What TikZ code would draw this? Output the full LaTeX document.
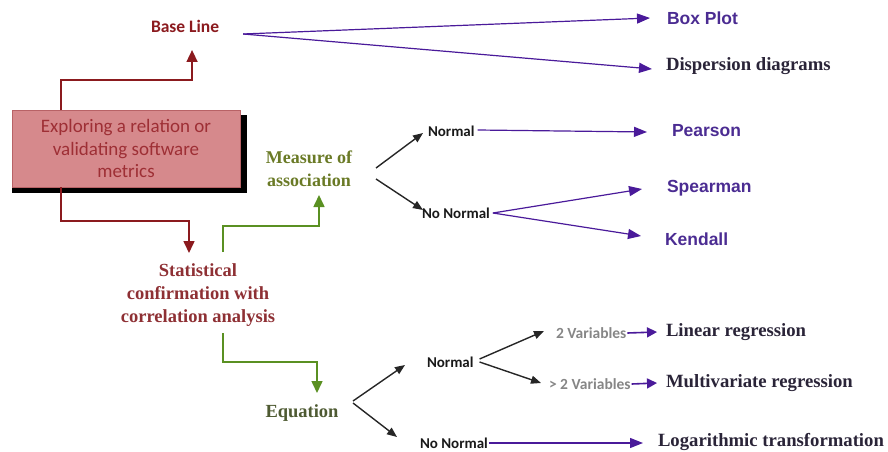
\documentclass[tikz,border=0pt]{standalone}
\usepackage{fontspec}
\setmainfont{Liberation Serif}
\newfontfamily\calfont{Carlito}
\newfontfamily\arialfont{Liberation Sans}
\usetikzlibrary{arrows.meta,calc,backgrounds}

\definecolor{darkred}{HTML}{8B1A1E}
\definecolor{boxtext}{HTML}{9E2F35}
\definecolor{boxfill}{HTML}{D6898C}
\definecolor{boxedge}{HTML}{B86266}
\definecolor{violetline}{HTML}{4A1A9A}
\definecolor{violettext}{HTML}{4B2C92}
\definecolor{inktext}{HTML}{2A2438}
\definecolor{leafgreen}{HTML}{5A9022}
\definecolor{olivetext}{HTML}{6A7A26}
\definecolor{olivedark}{HTML}{4E5A32}
\definecolor{stattext}{HTML}{8E3034}
\definecolor{greytext}{HTML}{868686}
\definecolor{inkarrow}{HTML}{262626}

\tikzset{
  every node/.style={inner sep=0pt, outer sep=0pt},
  redtitle/.style={text=darkred, font=\calfont\bfseries\fontsize{17.5}{21}\selectfont},
  leafsans/.style={anchor=west, text=violettext, font=\arialfont\bfseries\fontsize{17.5}{21}\selectfont},
  leafserif/.style={anchor=west, text=inktext, font=\bfseries\fontsize{18.7}{22}\selectfont},
  branch/.style={anchor=west, text=black!90, font=\calfont\bfseries\fontsize{15}{18}\selectfont},
  varlabel/.style={anchor=west, text=greytext, font=\calfont\bfseries\fontsize{15.5}{18}\selectfont},
  mainbox/.style={draw=boxedge, line width=0.6pt, fill=boxfill, minimum width=228pt, minimum height=77pt,
    align=center, text=boxtext, font=\calfont\fontsize{19}{22.5}\selectfont},
  redlink/.style={draw=darkred, line width=1.6pt, -{Triangle[length=12pt,width=11pt]}},
  greenlink/.style={draw=leafgreen, line width=1.6pt, -{Triangle[length=12pt,width=11pt]}},
  inklink/.style={draw=inkarrow, line width=1.4pt, -{Triangle[length=10pt,width=8pt]}},
  violink/.style={draw=violetline, line width=1.2pt, -{Triangle[length=13pt,width=10pt]}},
  smallvio/.style={draw=violetline, line width=1.6pt, -{Triangle[length=10pt,width=10pt]}},
}

\begin{document}
\begin{tikzpicture}[x=1pt, y=-1pt]
\useasboundingbox (0,0) rectangle (888,452);

% main box with hard black shadow
\node[mainbox] (box) at (126,148.5) {Exploring a relation or\\validating software\\metrics};
\begin{scope}[on background layer]
  \fill[black] ($(box.north west)+(0,5)$) rectangle ($(box.south east)+(7,6)$);
\end{scope}

% first level
\node[redtitle, anchor=west] (base) at (151,26) {Base Line};
\node[align=center, text=stattext, font=\bfseries\fontsize{18.5}{23}\selectfont] (stat) at (198,295)
  {Statistical\\confirmation with\\correlation analysis};
\node[align=center, text=olivetext, font=\bfseries\fontsize{18}{23}\selectfont] (measure) at (309,169)
  {Measure of\\association};
\node[text=olivedark, font=\bfseries\fontsize{18.5}{21}\selectfont] (equation) at (302,413) {Equation};

% leaves of the base line
\node[leafsans] (boxplot) at (667,18) {Box Plot};
\node[leafserif] (disp) at (666,66) {Dispersion diagrams};

% association branches
\node[branch] (normA) at (428,131) {Normal};
\node[branch] (nonormA) at (422,213) {No Normal};
\node[leafsans] (pearson) at (672,131) {Pearson};
\node[leafsans] (spearman) at (667,188) {Spearman};
\node[leafsans] (kendall) at (665,239) {Kendall};

% equation branches
\node[branch] (normB) at (427,362) {Normal};
\node[branch] (nonormB) at (420,443) {No Normal};
\node[varlabel] (twovar) at (556,333) {2 Variables};
\node[varlabel] (gtvar) at (549,384) {> 2 Variables};
\node[leafserif] (linreg) at (666,332) {Linear regression};
\node[leafserif] (multreg) at (666,383) {Multivariate regression};
\node[leafserif] (logt) at (658,442) {Logarithmic transformation};

% red elbow connectors out of the box
\draw[redlink] ($(box.north west)+(49,0)$) -- ++(0,-30) -| ($(base.center)+(7,24)$);
\draw[redlink] ($(box.south west)+(49,0)$) -- ++(0,34) -| ($(stat.center)+(-9,-42)$);

% green elbow connectors out of the statistical node
\draw[greenlink] ($(stat.center)+(25,-43)$) -- ++(0,-26) -| ($(measure.center)+(10,26)$);
\draw[greenlink] ($(stat.center)+(25,38)$) -- ++(0,29) -| ($(equation.center)+(15,-20)$);

% base line fan
\draw[violink] ($(base.east)+(24,8)$) -- ($(boxplot.west)+(-17,0)$);
\draw[violink] ($(base.east)+(24,8)$) -- ($(disp.west)+(-14,3)$);

% measure of association fan
\draw[inklink] ($(measure.center)+(67,-1)$) -- ($(normA.west)+(-5,2)$);
\draw[inklink] ($(measure.center)+(67,10)$) -- ($(nonormA.west)+(1,-3)$);
\draw[violink] ($(normA.east)+(3,-1)$) -- ($(pearson.west)+(-25,1)$);
\draw[violink] ($(nonormA.east)+(3,0)$) -- ($(spearman.west)+(-25,1)$);
\draw[violink] ($(nonormA.east)+(3,0)$) -- ($(kendall.west)+(-24,-3)$);

% equation fan
\draw[inklink] ($(equation.center)+(51,-12)$) -- ($(normB.west)+(-22,3)$);
\draw[inklink] ($(equation.center)+(51,-10)$) -- ($(nonormB.west)+(-23,-6)$);
\draw[inklink] ($(normB.east)+(6,-3)$) -- ($(twovar.west)+(-12,-2)$);
\draw[inklink] ($(normB.east)+(6,0)$) -- ($(gtvar.west)+(-8,-1)$);
\draw[smallvio] ($(twovar.east)+(1,0)$) -- ($(linreg.west)+(-9,0)$);
\draw[smallvio] ($(gtvar.east)+(1,0)$) -- ($(multreg.west)+(-9,0)$);
\draw[violink] ($(nonormB.east)+(1,0)$) -- ($(logt.west)+(-15,1)$);
\end{tikzpicture}
\end{document}
